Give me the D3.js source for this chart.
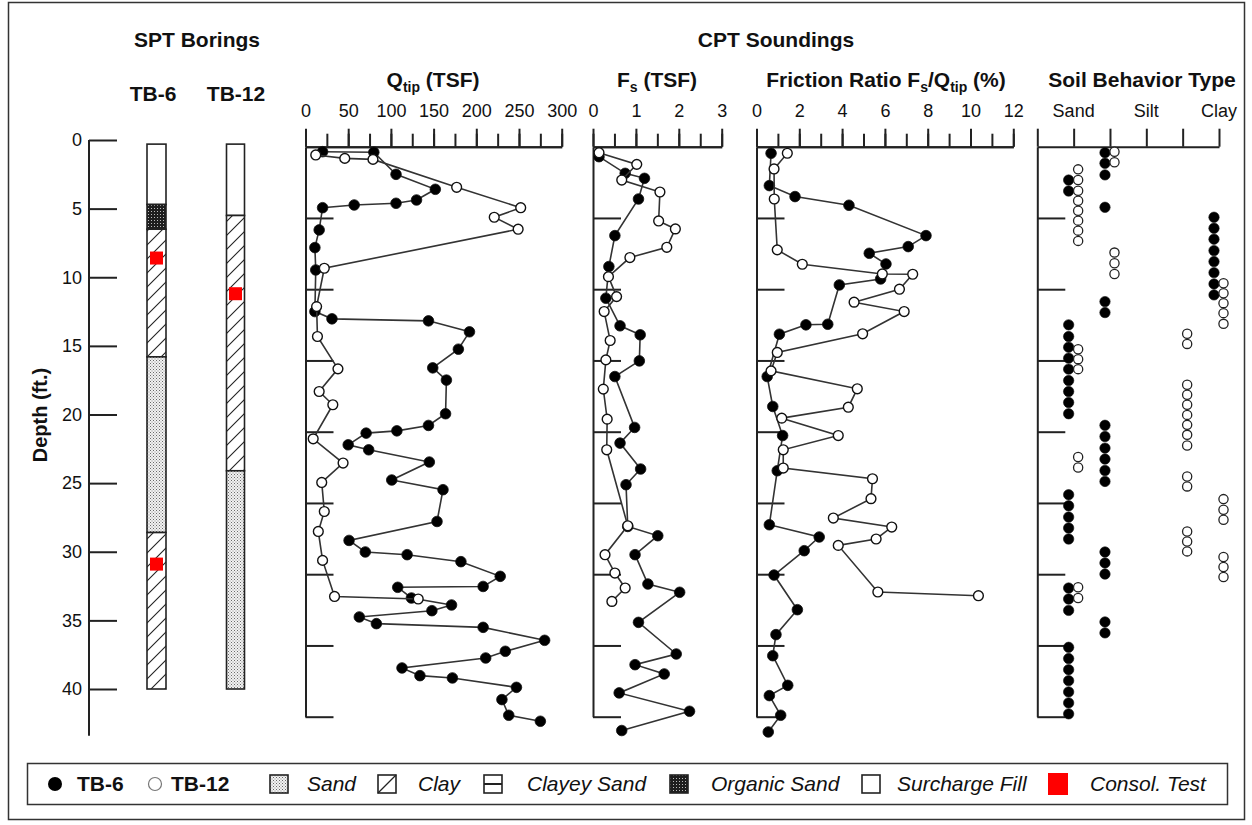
<!DOCTYPE html>
<html><head><meta charset="utf-8">
<script src="https://cdn.jsdelivr.net/npm/d3@7/dist/d3.min.js"></script>
<style>
body{margin:0;background:#fff;}
text{font-family:"Liberation Sans",Arial,sans-serif;fill:#111;}
</style></head>
<body>
<svg id="c" width="1252" height="825"></svg>
<script>
// ---------------- DATA ----------------
const depthTicks = [0,5,10,15,20,25,30,35,40];
const qtipTicks = [0,50,100,150,200,250,300];
const fsTicks = [0,1,2,3];
const frTicks = [0,2,4,6,8,10,12];
const sbtLabels = ["Sand","Silt","Clay"];
const sbtLabelValues = [1,3,5];

// [depth (ft), value]
const qtipTB6 = [[0.35,20],[0.39,80],[1.94,106],[2.99,152],[3.74,130],[3.97,106],[4.09,57],[4.28,20],[5.84,16],[7.08,11],[8.65,12],[11.57,11],[12.08,31],[12.22,144],[12.99,192],[14.21,179],[15.52,149],[16.38,165],[18.74,164],[19.56,144],[19.94,107],[20.1,71],[20.92,50],[21.27,74],[22.13,145],[23.39,101],[24.07,161],[26.3,154],[27.63,51],[28.44,70],[28.63,119],[29.12,182],[30.15,228],[30.86,208],[30.92,108],[31.67,124],[32.16,171],[32.56,148],[33.0,63],[33.47,83],[33.73,208],[34.64,280],[35.41,234],[35.88,211],[36.58,113],[37.12,134],[37.28,172],[37.94,247],[38.8,230],[39.9,238],[40.32,275]];
const qtipTB12 = [[0.58,12],[0.82,46],[0.89,79],[2.85,177],[4.28,252],[4.95,221],[5.79,249],[8.53,22],[11.22,13],[13.32,14],[15.59,38],[17.18,16],[18.11,32],[20.5,9],[22.2,44],[23.56,19],[25.6,22],[27.0,15],[29.03,20],[31.56,34],[31.74,132]];

const fsTB6 = [[0.7,0.14],[1.87,0.75],[2.22,1.2],[3.67,1.06],[6.24,0.51],[8.41,0.37],[10.63,0.3],[12.57,0.63],[13.2,1.1],[15.03,1.08],[16.13,0.51],[19.7,0.97],[20.8,0.63],[22.62,1.11],[23.72,0.77],[26.65,0.81],[27.3,1.51],[28.63,0.98],[30.69,1.28],[31.27,2.02],[33.38,1.06],[35.6,1.94],[36.35,0.98],[37.0,1.66],[38.33,0.61],[39.62,2.25],[40.97,0.67]];
const fsTB12 = [[0.42,0.14],[1.24,1.02],[2.34,0.67],[3.18,1.56],[5.21,1.53],[5.77,1.92],[7.06,1.72],[7.78,0.86],[9.12,0.36],[10.52,0.55],[11.57,0.26],[13.6,0.4],[14.96,0.3],[17.01,0.24],[19.12,0.33],[21.27,0.32],[26.6,0.81],[28.63,0.28],[29.92,0.51],[30.97,0.75],[31.91,0.44]];

const frTB6 = [[0.46,0.68],[2.73,0.6],[3.5,1.8],[4.11,4.32],[6.24,7.92],[7.01,7.09],[7.48,5.27],[8.23,6.05],[9.28,5.8],[9.7,3.87],[12.46,3.33],[12.5,2.31],[13.16,1.07],[16.13,0.5],[18.23,0.76],[20.27,1.22],[22.74,0.97],[26.53,0.6],[27.39,2.93],[28.35,2.23],[30.06,0.82],[32.49,1.91],[34.24,0.91],[35.72,0.76],[37.8,1.46],[38.52,0.6],[39.9,1.13],[41.07,0.55]];
const frTB12 = [[0.46,1.44],[1.56,0.82],[3.67,0.83],[7.24,0.97],[8.25,2.14],[8.93,5.88],[8.95,7.3],[10.0,6.68],[10.91,4.56],[11.57,6.9],[13.13,4.96],[14.44,0.97],[15.73,0.68],[16.99,4.71],[18.28,4.29],[19.05,1.18],[20.27,3.82],[21.27,1.25],[22.55,1.25],[23.3,5.42],[24.7,5.35],[26.06,3.59],[26.69,6.32],[27.53,5.59],[27.98,3.82],[31.25,5.67],[31.51,10.37]];

// Soil behaviour type class: 1 sand, 2 silty sand, 4 clayey silt, 5 clay
const sbtTB6 = [[0.42,2],[1.16,2],[1.98,2],[2.34,1],[3.11,1],[4.25,2],
 [4.95,5],[5.72,5],[6.49,5],[7.29,5],[8.06,5],[8.84,5],[9.63,5],[10.4,5],
 [10.87,2],[11.64,2],
 [12.5,1],[13.32,1],[14.07,1],[14.84,1],[15.61,1],[16.41,1],[17.18,1],[17.95,1],[18.74,1],
 [19.55,2],[20.34,2],[21.15,2],[21.92,2],[22.72,2],[23.49,2],
 [24.42,1],[25.2,1],[25.99,1],[26.76,1],[27.53,1],
 [28.44,2],[29.21,2],[29.99,2],
 [30.97,1],[31.74,1],[32.54,1],
 [33.35,2],[34.12,2],
 [35.13,1],[35.92,1],[36.7,1],[37.47,1],[38.26,1],[39.03,1],[39.8,1]];
const sbtTB12 = [[0.35,2],[1.09,2],
 [1.59,1],[2.34,1],[3.09,1],[3.79,1],[4.49,1],[5.19,1],[5.89,1],[6.61,1],
 [7.43,2],[8.18,2],[8.93,2],
 [9.58,5],[10.28,5],[10.98,5],[11.68,5],[12.43,5],
 [13.13,4],[13.84,4],
 [14.21,1],[14.91,1],[15.61,1],
 [16.71,4],[17.41,4],[18.11,4],[18.82,4],[19.52,4],[20.22,4],[20.97,4],
 [21.78,1],[22.51,1],
 [23.14,4],[23.84,4],
 [24.73,5],[25.48,5],[26.18,5],
 [27.0,4],[27.7,4],[28.4,4],
 [28.79,5],[29.49,5],[30.2,5],
 [30.92,1],[31.67,1]];

// Boring logs: [top, bottom, material]
const boringTB6 = [[0.3,4.7,"fill"],[4.7,6.5,"organic"],[6.5,15.8,"clay"],[15.8,28.6,"sand"],[28.6,40,"clay"]];
const boringTB12 = [[0.3,5.5,"fill"],[5.5,24.1,"clay"],[24.1,40,"sand"]];
const consolTB6 = [8.6,30.9];
const consolTB12 = [11.2];

// ---------------- DRAW ----------------
const svg = d3.select("#c");
const FONT = '"Liberation Sans",Arial,sans-serif';
const defs = svg.append("defs");
// patterns
const pSand = defs.append("pattern").attr("id","sand").attr("width",3).attr("height",3).attr("patternUnits","userSpaceOnUse");
pSand.append("rect").attr("width",3).attr("height",3).attr("fill","#f2f2f2");
pSand.append("rect").attr("x",0).attr("y",0).attr("width",1).attr("height",1).attr("fill","#6a6a6a");
pSand.append("rect").attr("x",1.5).attr("y",1.5).attr("width",1).attr("height",1).attr("fill","#8a8a8a");
const pOrg = defs.append("pattern").attr("id","organic").attr("width",3).attr("height",3).attr("patternUnits","userSpaceOnUse");
pOrg.append("rect").attr("width",3).attr("height",3).attr("fill","#1e1e1e");
pOrg.append("rect").attr("x",1).attr("y",1).attr("width",1).attr("height",1).attr("fill","#bbb");
const pClay = defs.append("pattern").attr("id","clay").attr("width",14).attr("height",14).attr("patternUnits","userSpaceOnUse");
pClay.append("rect").attr("width",14).attr("height",14).attr("fill","#fff");
pClay.append("path").attr("d","M-1,15L15,-1M-3,3L3,-3M11,17L17,11").attr("stroke","#222").attr("stroke-width",1.1);
const fillOf = m => m==="fill" ? "#fff" : `url(#${m})`;

// outer frame
svg.append("rect").attr("x",8.5).attr("y",2.5).attr("width",1236).attr("height",817)
  .attr("fill","none").attr("stroke","#333").attr("stroke-width",1.5);

// scales
const yB = d3.scaleLinear().domain([0,40]).range([140,689]);
const yC = d3.scaleLinear().domain([0,40]).range([146.7,716.7]);
const xQ = d3.scaleLinear().domain([0,300]).range([305.5,561.7]);
const xF = d3.scaleLinear().domain([0,3]).range([593,721.7]);
const xR = d3.scaleLinear().domain([0,12]).range([756.5,1013.3]);
const xS = d3.scaleLinear().domain([0,5]).range([1037.3,1219]);

function styleAxis(g){
  g.selectAll("path,line").attr("stroke","#222").attr("stroke-width",2);
  g.selectAll("text").attr("font-family",FONT).attr("font-size",18).attr("fill","#111");
}

// headers
function title(x,y,t,size){ return svg.append("text").attr("x",x).attr("y",y).attr("text-anchor","middle")
  .attr("font-size",size||21).attr("font-weight","bold").text(t); }
title(197,47,"SPT Borings");
title(776,47,"CPT Soundings");
title(153,101,"TB-6");
title(236,101,"TB-12");

// depth axis
const gD = svg.append("g").attr("transform","translate(89,0)")
  .call(d3.axisLeft(yB).tickValues(depthTicks).tickSizeInner(-28).tickSizeOuter(0).tickPadding(7));
gD.select(".domain").remove();
gD.append("line").attr("x1",0).attr("x2",0).attr("y1",yB(0)).attr("y2",yB(43.4));
styleAxis(gD);
svg.append("text").attr("transform","translate(47,415) rotate(-90)").attr("text-anchor","middle")
  .attr("font-size",20).attr("font-weight","bold").text("Depth (ft.)");

// borings
function drawBoring(x0,w,layers,consol){
  const g = svg.append("g");
  g.selectAll("rect.l").data(layers).join("rect")
    .attr("x",x0).attr("width",w).attr("y",d=>yB(d[0])).attr("height",d=>yB(d[1])-yB(d[0]))
    .attr("fill",d=>fillOf(d[2])).attr("stroke","#222").attr("stroke-width",1.6);
  g.selectAll("rect.c").data(consol).join("rect")
    .attr("x",x0+w/2-6.5).attr("width",13).attr("y",d=>yB(d)-6.5).attr("height",13).attr("fill","#f00");
}
drawBoring(147,19,boringTB6,consolTB6);
drawBoring(226.5,18,boringTB12,consolTB12);

// CPT panels
function topAxis(x, ticks, minorStep, labelFmt){
  const gMinor = svg.append("g").attr("transform",`translate(0,${yC(0)})`);
  const dom = x.domain();
  const minors = d3.range(dom[0], dom[1]+1e-9, minorStep);
  gMinor.call(d3.axisTop(x).tickValues(minors).tickSizeInner(13).tickSizeOuter(0).tickFormat(""));
  styleAxis(gMinor);
  const g = svg.append("g").attr("transform",`translate(0,${yC(0)})`);
  g.call(d3.axisTop(x).tickValues(ticks).tickSizeInner(18).tickSizeOuter(0).tickPadding(12).tickFormat(labelFmt||d3.format("d")));
  styleAxis(g);
}
function leftBracket(x0){
  const g = svg.append("g").attr("transform",`translate(${x0},0)`)
    .call(d3.axisRight(yC).tickValues(depthTicks.slice(1)).tickSizeInner(28).tickSizeOuter(0).tickFormat(""));
  styleAxis(g);
}
function panelTitle(cx, parts){
  const t = svg.append("text").attr("x",cx).attr("y",87).attr("text-anchor","middle").attr("font-size",21).attr("font-weight","bold");
  parts.forEach(p=>{
    if (p.sub) t.append("tspan").attr("font-size",14).attr("dy",5).text(p.sub);
    else t.append("tspan").attr("dy",p.after?-5:0).text(p.t);
  });
}
function series(x, data, open){
  const g = svg.append("g");
  const line = d3.line().x(d=>x(d[1])).y(d=>yC(d[0]));
  g.append("path").attr("d",line(data)).attr("fill","none").attr("stroke","#333").attr("stroke-width",1.6);
  g.selectAll("circle").data(data).join("circle")
    .attr("cx",d=>x(d[1])).attr("cy",d=>yC(d[0])).attr("r",open?4.9:5.3)
    .attr("fill",open?"#fff":"#000").attr("stroke","#111").attr("stroke-width",open?1.4:0.8);
}

// Qtip
topAxis(xQ, qtipTicks, 25);
leftBracket(305.5);
panelTitle(433,[{t:"Q"},{sub:"tip"},{t:" (TSF)",after:true}]);
series(xQ,qtipTB6,false);
series(xQ,qtipTB12,true);

// Fs
topAxis(xF, fsTicks, 0.5);
leftBracket(593);
panelTitle(657,[{t:"F"},{sub:"s"},{t:" (TSF)",after:true}]);
series(xF,fsTB6,false);
series(xF,fsTB12,true);

// Friction ratio
topAxis(xR, frTicks, 1);
leftBracket(756.5);
panelTitle(886,[{t:"Friction Ratio F"},{sub:"s"},{t:"/Q",after:true},{sub:"tip"},{t:" (%)",after:true}]);
series(xR,frTB6,false);
series(xR,frTB12,true);

// SBT
const gS = svg.append("g").attr("transform",`translate(0,${yC(0)})`)
  .call(d3.axisTop(xS).tickValues([0,1,2,3,4,5]).tickSizeInner(18).tickSizeOuter(0).tickPadding(12).tickFormat(""));
styleAxis(gS);
gS.selectAll("text.lab").data(sbtLabelValues).join("text").attr("class","lab")
  .attr("x",d=>xS(d)).attr("y",-30).attr("text-anchor","middle").attr("font-family",FONT).attr("font-size",18).attr("fill","#111")
  .text((d,i)=>sbtLabels[i]);
leftBracket(1037.3);
panelTitle(1142,[{t:"Soil Behavior Type"}]);
const OFF6 = -5, OFF12 = 4.5;
svg.append("g").selectAll("circle").data(sbtTB6).join("circle")
  .attr("cx",d=>xS(d[1])+OFF6).attr("cy",d=>yC(d[0])).attr("r",5.2).attr("fill","#000").attr("stroke","#111").attr("stroke-width",0.6);
svg.append("g").selectAll("circle").data(sbtTB12).join("circle")
  .attr("cx",d=>xS(d[1])+OFF12).attr("cy",d=>yC(d[0])).attr("r",4.6).attr("fill","#fff").attr("stroke","#222").attr("stroke-width",1.3);

// Legend
const L = svg.append("g");
L.append("rect").attr("x",27.5).attr("y",763.5).attr("width",1200).attr("height",41).attr("fill","#fff").attr("stroke","#333").attr("stroke-width",1.5);
const ly = 784;
L.append("circle").attr("cx",55).attr("cy",ly).attr("r",7).attr("fill","#000");
L.append("text").attr("x",77).attr("y",ly+7).attr("font-size",21).attr("font-weight","bold").text("TB-6");
L.append("circle").attr("cx",155).attr("cy",ly).attr("r",6.5).attr("fill","#fff").attr("stroke","#777").attr("stroke-width",1.2);
L.append("text").attr("x",171).attr("y",ly+7).attr("font-size",21).attr("font-weight","bold").text("TB-12");
const items = [
  {x:270, fill:"url(#sand)", label:"Sand", lx:307},
  {x:378, fill:"#fff", label:"Clay", lx:418, diag:true},
  {x:484, fill:"#fff", label:"Clayey Sand", lx:527, hline:true},
  {x:670, fill:"url(#organic)", label:"Organic Sand", lx:711},
  {x:862, fill:"#fff", label:"Surcharge Fill", lx:897},
  {x:1048, fill:"#f00", label:"Consol. Test", lx:1090, red:true}
];
items.forEach(it=>{
  const w = it.red?20:18, h = it.red?22:18;
  L.append("rect").attr("x",it.x).attr("y",ly-h/2).attr("width",w).attr("height",h).attr("fill",it.fill)
    .attr("stroke",it.red?"none":"#222").attr("stroke-width",1.6);
  if (it.diag) L.append("line").attr("x1",it.x).attr("y1",ly+9).attr("x2",it.x+18).attr("y2",ly-9).attr("stroke","#222").attr("stroke-width",1.3);
  if (it.hline) L.append("line").attr("x1",it.x).attr("y1",ly).attr("x2",it.x+18).attr("y2",ly).attr("stroke","#222").attr("stroke-width",2);
  L.append("text").attr("x",it.lx).attr("y",ly+7).attr("font-size",21).attr("font-style","italic").attr("fill","#222").text(it.label);
});
</script>
</body></html>
